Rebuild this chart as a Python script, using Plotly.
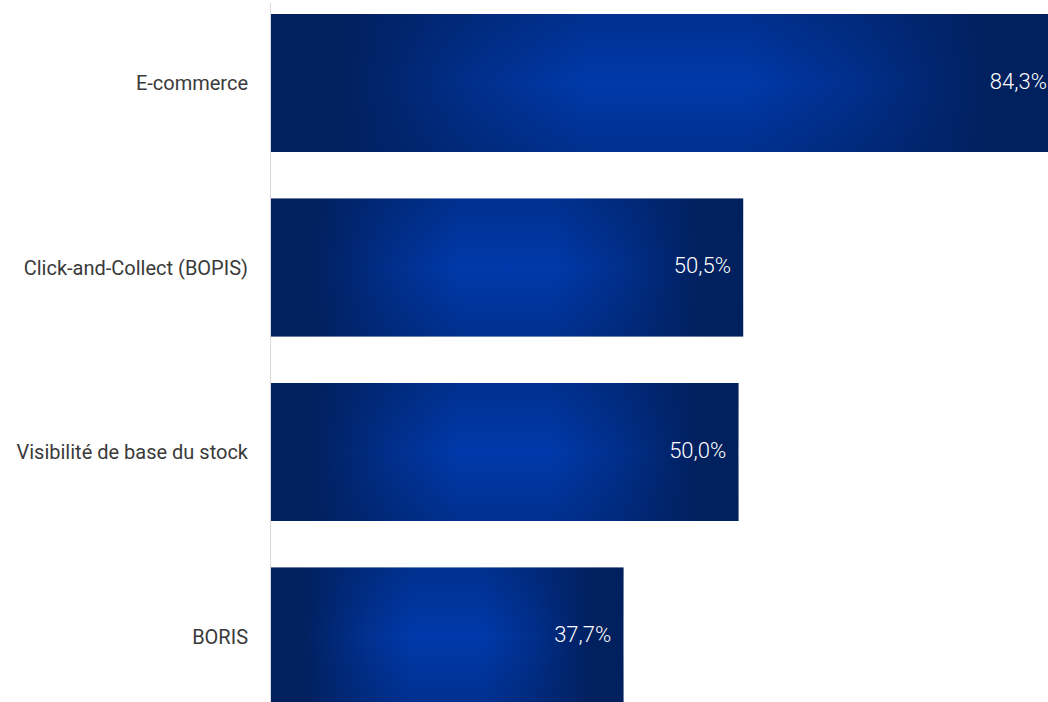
import plotly.graph_objects as go

# Data
categories = ["E-commerce", "Click-and-Collect (BOPIS)", "Visibilité de base du stock", "BORIS"]
values = [84.3, 50.5, 50.0, 37.7]
value_labels = ["84,3%", "50,5%", "50,0%", "37,7%"]

# Styling
DARK = "rgb(1,32,94)"
MID = "rgb(1,46,138)"
BRIGHT = "rgb(0,57,170)"
BAR_HALF = 0.374          # half bar thickness in category units
FONT = "Roboto"

h_scale = [[0.0, DARK], [0.09, DARK], [0.25, MID], [0.4, BRIGHT], [0.6, BRIGHT],
           [0.75, MID], [0.91, DARK], [1.0, DARK]]
v_scale = [[0.0, "rgba(1,32,94,0.36)"], [0.5, "rgba(1,32,94,0)"], [1.0, "rgba(1,32,94,0.36)"]]

positions = list(range(len(categories)))

fig = go.Figure()

for pos, val in zip(positions, values):
    xs = [0, val, val, 0, 0]
    ys = [pos - BAR_HALF, pos - BAR_HALF, pos + BAR_HALF, pos + BAR_HALF, pos - BAR_HALF]
    # horizontal glow of the bar
    fig.add_trace(go.Scatter(
        x=xs, y=ys, mode="none", fill="toself",
        fillgradient=dict(type="horizontal", colorscale=h_scale),
        hoverinfo="skip", showlegend=False,
    ))
    # darkening towards the top and bottom edges
    fig.add_trace(go.Scatter(
        x=xs, y=ys, mode="none", fill="toself",
        fillgradient=dict(type="vertical", colorscale=v_scale),
        hoverinfo="skip", showlegend=False,
    ))

# value labels inside the bar ends
fig.add_trace(go.Scatter(
    x=values, y=positions, mode="markers+text",
    text=value_labels, textposition="middle left",
    marker=dict(size=18, opacity=0),
    textfont=dict(family=FONT, size=22, color="white", weight=300),
    cliponaxis=True, hoverinfo="skip", showlegend=False,
))

fig.update_layout(
    width=1048, height=702,
    margin=dict(l=271, r=0, t=3, b=0),
    paper_bgcolor="white", plot_bgcolor="white",
    font=dict(family=FONT, size=20, color="#3a3a3a"),
    showlegend=False,
    xaxis=dict(visible=False, range=[0, 83.1], fixedrange=True),
    yaxis=dict(
        range=[3.355, -0.4336],
        tickmode="array", tickvals=positions, ticktext=categories,
        showline=True, linecolor="#d9d9d9", linewidth=1,
        showgrid=False, zeroline=False, ticks="",
        ticklabelstandoff=18, automargin=False,
        tickfont=dict(family=FONT, size=20, color="#3a3a3a"),
        fixedrange=True,
    ),
)

fig.write_html("out.html")
